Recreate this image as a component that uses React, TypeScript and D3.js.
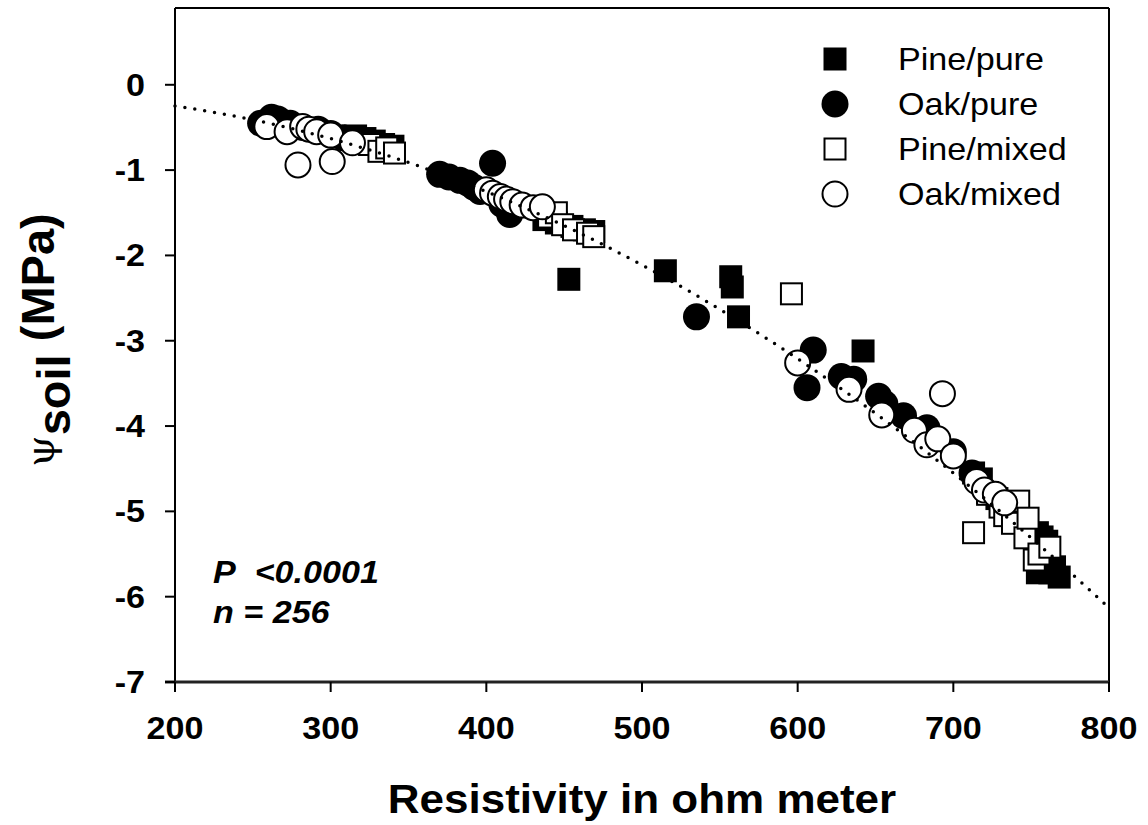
import React, { useMemo } from "react";
import * as d3 from "d3";

const WIDTH = 1148;
const HEIGHT = 825;
const MARGIN = { top: 8, right: 39, bottom: 143, left: 175 };
const FONT = "'Liberation Sans', Arial, sans-serif";
const SX = 1.1; // glyphs in the source are a bit wider than Arial

const X_TICKS = [200, 300, 400, 500, 600, 700, 800];
const Y_TICKS = [0, -1, -2, -3, -4, -5, -6, -7];

// [resistivity (ohm m), psi soil (MPa)]
const pinePure: [number, number][] = [
  [316, -0.6], [322, -0.63], [328, -0.66], [334, -0.7], [340, -0.72],
  [437, -1.58], [445, -1.62], [455, -1.66], [463, -1.7], [469, -1.72],
  [453, -2.28], [515, -2.18], [557, -2.25], [558, -2.37], [562, -2.72], [642, -3.12],
  [713, -4.55], [718, -4.62], [722, -4.78], [728, -4.85], [735, -4.95], [742, -5.1],
  [754, -5.25], [757, -5.3], [760, -5.35], [765, -5.65], [754, -5.72], [762, -5.72], [768, -5.77],
];

const oakPure: [number, number][] = [
  [255, -0.45], [262, -0.38], [266, -0.4], [274, -0.45], [282, -0.5], [292, -0.52],
  [300, -0.57], [308, -0.62], [315, -0.65],
  [370, -1.05], [376, -1.08], [383, -1.12], [388, -1.15], [392, -1.2], [396, -1.25],
  [404, -0.92], [410, -1.4], [415, -1.52],
  [535, -2.72],
  [606, -3.55], [610, -3.11], [628, -3.42], [636, -3.45], [652, -3.65], [656, -3.74],
  [668, -3.88], [683, -4.02], [700, -4.3], [712, -4.55],
];

const pineMixed: [number, number][] = [
  [325, -0.7], [331, -0.78], [336, -0.74], [341, -0.8],
  [440, -1.55], [445, -1.5], [449, -1.64], [456, -1.7], [465, -1.74], [469, -1.78],
  [596, -2.45],
  [713, -5.25], [722, -4.8], [730, -4.95], [733, -5.05], [738, -5.14], [742, -4.88],
  [746, -5.31], [748, -5.08], [752, -5.57], [755, -5.5], [762, -5.42],
];

const oakMixed: [number, number][] = [
  [259, -0.49], [272, -0.55], [279, -0.94], [282, -0.49], [286, -0.52], [291, -0.55],
  [300, -0.59], [301, -0.9], [314, -0.68],
  [400, -1.23], [404, -1.27], [409, -1.31], [413, -1.34], [417, -1.37], [423, -1.41],
  [430, -1.44], [436, -1.43],
  [600, -3.26], [633, -3.57], [654, -3.87], [675, -4.05], [683, -4.22], [690, -4.15],
  [693, -3.62], [700, -4.35], [715, -4.65], [720, -4.75], [727, -4.8], [733, -4.9],
];

// quadratic regression drawn as the dotted curve
const FIT = { x0: 200, a: -0.25, b: -0.002612, c: -1.1983e-5 };

const SERIES = [
  { name: "Pine/pure", data: pinePure, shape: "square", filled: true },
  { name: "Oak/pure", data: oakPure, shape: "circle", filled: true },
  { name: "Pine/mixed", data: pineMixed, shape: "square", filled: false },
  { name: "Oak/mixed", data: oakMixed, shape: "circle", filled: false },
];

const Marker = ({ x, y, shape, filled, size }) => {
  const fill = filled ? "#000" : "#fff";
  if (shape === "square") {
    const s = filled ? size : size - 2;
    return (
      <rect x={x - s / 2} y={y - s / 2} width={s} height={s}
        fill={fill} stroke="#000" strokeWidth={filled ? 0 : 2} />
    );
  }
  const r = filled ? size / 2 + 2 : size / 2 + 1;
  return <circle cx={x} cy={y} r={r} fill={fill} stroke="#000" strokeWidth={filled ? 0 : 2} />;
};

// text that is widened a little horizontally
const WideText = ({ x, y, anchor = "start", size, weight = "normal", italic = false, children }) => (
  <text transform={`translate(${x},${y}) scale(${SX},1)`} textAnchor={anchor}
    fontSize={size} fontWeight={weight} fontStyle={italic ? "italic" : "normal"}>
    {children}
  </text>
);

export default function App() {
  const boundsWidth = WIDTH - MARGIN.left - MARGIN.right;
  const boundsHeight = HEIGHT - MARGIN.top - MARGIN.bottom;

  const xScale = useMemo(
    () => d3.scaleLinear().domain([200, 800]).range([0, boundsWidth]),
    [boundsWidth]
  );
  const yScale = useMemo(
    () => d3.scaleLinear().domain([-7, 0.9]).range([boundsHeight, 0]),
    [boundsHeight]
  );

  const fitPath = useMemo(() => {
    const xs = d3.range(200, 801, 4);
    const line = d3
      .line<number>()
      .x((d) => xScale(d))
      .y((d) => {
        const t = d - FIT.x0;
        return yScale(FIT.a + FIT.b * t + FIT.c * t * t);
      });
    return line(xs);
  }, [xScale, yScale]);

  return (
    <svg width={WIDTH} height={HEIGHT}
      style={{ position: "absolute", left: 0, top: 0, background: "#fff" }}
      fontFamily={FONT}>
      <g transform={`translate(${MARGIN.left},${MARGIN.top})`}>
        {SERIES.map((s) => (
          <g key={s.name}>
            {s.data.map((d, i) => (
              <Marker key={i} x={xScale(d[0])} y={yScale(d[1])}
                shape={s.shape} filled={s.filled} size={23} />
            ))}
          </g>
        ))}

        <path d={fitPath} fill="none" stroke="#000" strokeWidth={3.5}
          strokeLinecap="round" strokeDasharray="0 10" />

        {/* frame */}
        <line x1={0} x2={0} y1={0} y2={boundsHeight + 10} stroke="#000" strokeWidth={2} />
        <line x1={0} x2={boundsWidth} y1={0} y2={0} stroke="#000" strokeWidth={2} />
        <line x1={boundsWidth} x2={boundsWidth} y1={0} y2={boundsHeight + 10} stroke="#000" strokeWidth={2} />
        <line x1={-10} x2={boundsWidth} y1={boundsHeight} y2={boundsHeight} stroke="#222" strokeWidth={3} />

        {/* y axis */}
        {Y_TICKS.map((t) => (
          <g key={t} transform={`translate(0,${yScale(t)})`}>
            <line x1={-10} x2={0} stroke="#000" strokeWidth={2} />
            <WideText x={-30} y={11} anchor="end" size={31} weight="bold">
              {t}
            </WideText>
          </g>
        ))}

        {/* x axis */}
        {X_TICKS.map((t) => (
          <g key={t} transform={`translate(${xScale(t)},${boundsHeight})`}>
            <line y1={0} y2={10} stroke="#000" strokeWidth={2} />
            <WideText x={0} y={57} anchor="middle" size={31} weight="bold">
              {t}
            </WideText>
          </g>
        ))}

        {/* legend */}
        {SERIES.map((s, i) => (
          <g key={s.name} transform={`translate(660,${51 + i * 45})`}>
            <Marker x={0} y={0} shape={s.shape} filled={s.filled} size={23} />
            <WideText x={63} y={11} size={31}>{s.name}</WideText>
          </g>
        ))}

        {/* annotation */}
        <WideText x={38} y={575} size={31} weight="bold" italic>
          P{"\u00a0\u00a0"}&lt;0.0001
        </WideText>
        <WideText x={38} y={615} size={31} weight="bold" italic>
          n = 256
        </WideText>
      </g>

      {/* axis titles */}
      <WideText x={MARGIN.left + boundsWidth / 2} y={813} anchor="middle" size={40} weight="bold">
        Resistivity in ohm meter
      </WideText>
      <text transform="translate(54,340) rotate(-90)" textAnchor="middle"
        fontSize={47} fontWeight="bold">
        <tspan fontFamily="'DejaVu Serif', serif" fontWeight="normal" fontSize={40}>ψ</tspan>
        <tspan dy={16}>soil</tspan>
        <tspan dy={-16}> (MPa)</tspan>
      </text>
    </svg>
  );
}
